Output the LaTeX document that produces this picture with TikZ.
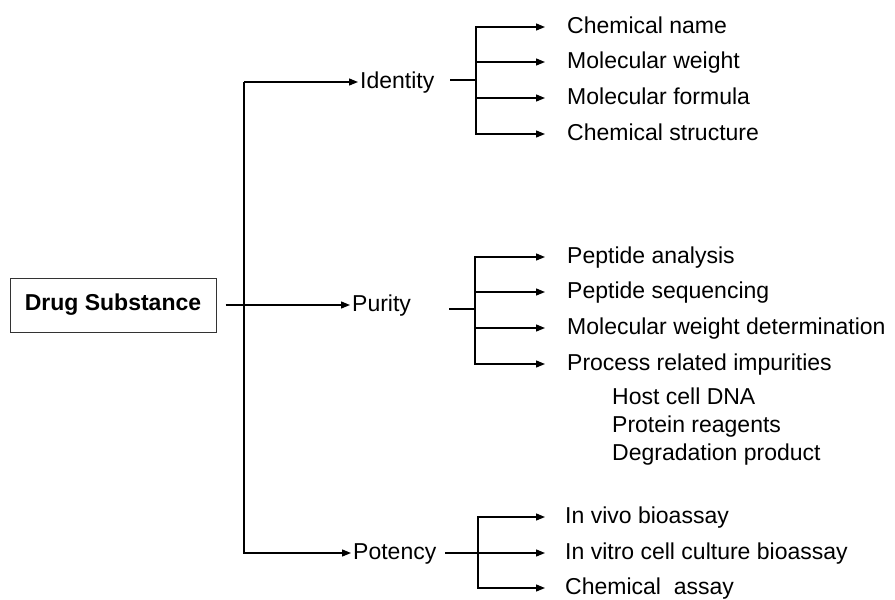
\documentclass[tikz,border=0pt]{standalone}
\usepackage{fontspec}
\setmainfont{Liberation Sans}
\usetikzlibrary{positioning,arrows.meta}

\begin{document}
\begin{tikzpicture}[
    x=1pt, y=-1pt,
    % Styles
    rootbox/.style={
        draw=black!80, line width=1pt,
        minimum width=206pt, minimum height=54pt, inner sep=0pt,
        font=\fontsize{23}{27}\selectfont\bfseries,
    },
    branch/.style={
        anchor=west, inner sep=2pt,
        font=\fontsize{23}{27}\selectfont,
        text height=17pt, text depth=5pt,
    },
    leaf/.style={
        anchor=west, inner sep=0pt,
        font=\fontsize{23}{27}\selectfont,
        text height=17pt, text depth=5pt,
    },
    arr/.style={-{Triangle[length=9pt,width=7pt]}, line width=1.3pt, #1},
    arr/.default={black},
    leafarr/.style={arr, shorten >=22pt},
    plain/.style={line width=1.3pt},
]
\useasboundingbox (0,0) rectangle (895,600);

% ================================================================
% ROOT
% ================================================================
\node[rootbox] (drugsub) at (113,305) {Drug Substance};

% ================================================================
% BRANCHES
% ================================================================
\node[branch] (identity) at (358,82) {Identity};
\node[branch] (purity) at (350,305) {Purity};
\node[branch] (potency) at (351,553) {Potency};

\coordinate (trunktop) at (244,82);
\coordinate (trunkbot) at (244,553);

% ================================================================
% LEAVES: IDENTITY
% ================================================================
\node[leaf] (chemname) at (567,27) {Chemical name};
\node[leaf] (molweight) at (567,62) {Molecular weight};
\node[leaf] (molformula) at (567,98) {Molecular formula};
\node[leaf] (chemstruct) at (567,134) {Chemical structure};

% ================================================================
% LEAVES: PURITY
% ================================================================
\node[leaf] (peptana) at (567,257) {Peptide analysis};
\node[leaf] (peptseq) at (567,292) {Peptide sequencing};
\node[leaf] (mwdet) at (567,328) {Molecular weight determination};
\node[leaf] (procimp) at (567,364) {Process related impurities};
\node[leaf] (hostdna) at (612,398) {Host cell DNA};
\node[leaf] (protreag) at (612,426) {Protein reagents};
\node[leaf] (degprod) at (612,454) {Degradation product};

% ================================================================
% LEAVES: POTENCY
% ================================================================
\node[leaf] (invivo) at (565,517) {In vivo bioassay};
\node[leaf] (invitro) at (565,553) {In vitro cell culture bioassay};
\node[leaf] (chemassay) at (565,588) {Chemical\ \ assay};

% ================================================================
% ARROWS
% ================================================================

% Root -> branches
\draw[arr] ([xshift=9pt]drugsub.east) -- (purity.west);
\draw[arr] (trunktop) -- (identity.west);
\draw[arr] (trunktop) -- (trunkbot) -- (potency.west);

% Identity fork
\coordinate (idstub) at (450,80);
\coordinate (idfork) at (476,80);
\draw[plain] (idstub) -- (idfork);
\foreach \leaf in {chemname,molweight,molformula,chemstruct}
    \draw[leafarr] (idfork) |- (\leaf.west);

% Purity fork
\coordinate (purstub) at (449,309);
\coordinate (purfork) at (475,309);
\draw[plain] (purstub) -- (purfork);
\foreach \leaf in {peptana,peptseq,mwdet,procimp}
    \draw[leafarr] (purfork) |- (\leaf.west);

% Potency fork
\coordinate (potstub) at (445,553);
\coordinate (potfork) at (478,553);
\draw[plain] (potstub) -- (potfork);
\foreach \leaf in {invivo,invitro,chemassay}
    \draw[leafarr, shorten >=20pt] (potfork) |- (\leaf.west);

\end{tikzpicture}
\end{document}
